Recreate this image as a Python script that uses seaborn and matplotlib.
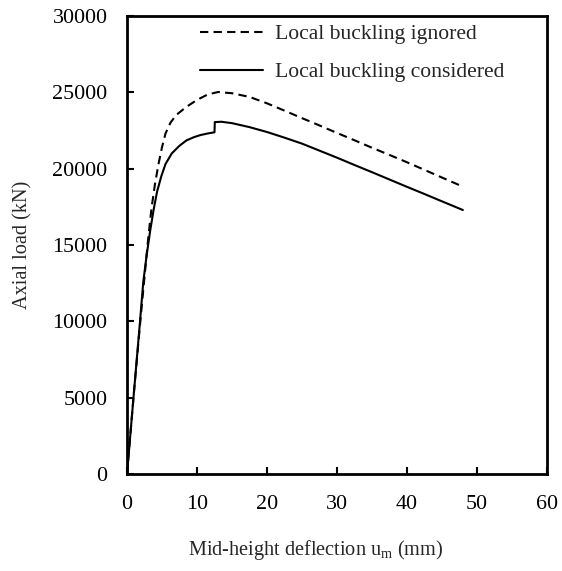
import matplotlib
matplotlib.use("Agg")
import matplotlib.pyplot as plt
import seaborn as sns
import pandas as pd

# Load–deflection response of the column, with and without local buckling
defl_ignored = [0, 1.0, 2.0, 3.0, 3.5, 4.0, 4.5, 5.0, 5.5, 6.2, 7.0, 8.5, 10.0,
                11.5, 13.0, 15.0, 17.5, 20.0, 22.5, 25.0, 27.5, 30.0, 32.5,
                35.0, 37.5, 40.0, 42.5, 45.0, 48.0]
load_ignored = [0, 5400, 10500, 15300, 17400, 19000, 20300, 21400, 22300,
                23000, 23500, 24050, 24500, 24850, 25020, 24940, 24700,
                24280, 23800, 23310, 22830, 22340, 21860, 21370, 20900,
                20420, 19920, 19420, 18820]

defl_considered = [0, 1.0, 1.86, 2.33, 2.8, 3.3, 3.8, 4.3, 4.9, 5.5, 6.4, 7.5,
                   8.5, 9.5, 10.5, 11.5, 12.5, 12.55, 13.5, 15.0, 17.5, 20.0,
                   22.5, 25.0, 27.5, 30.0, 32.5, 35.0, 37.5, 40.0, 42.5, 45.0,
                   48.0]
load_considered = [0, 5400, 10000, 12600, 14300, 15900, 17300, 18500, 19500,
                   20300, 21000, 21500, 21850, 22050, 22200, 22300, 22380,
                   23050, 23070, 22980, 22720, 22400, 22030, 21640, 21180,
                   20720, 20240, 19770, 19290, 18810, 18340, 17860, 17290]

label_ignored = "Local buckling ignored"
label_considered = "Local buckling considered"
x_ticks = [0, 10, 20, 30, 40, 50, 60]
y_ticks = [0, 5000, 10000, 15000, 20000, 25000, 30000]

sns.set_style("white")
plt.rcParams["font.family"] = ["Liberation Serif", "DejaVu Serif"]
plt.rcParams["mathtext.fontset"] = "custom"
plt.rcParams["mathtext.rm"] = "Liberation Serif"
plt.rcParams["mathtext.it"] = "Liberation Serif:italic"

fig = plt.figure(figsize=(5.62, 5.71), dpi=100)
ax = fig.add_axes([0.226, 0.170, 0.747, 0.802])

df_ign = pd.DataFrame({"u": defl_ignored, "P": load_ignored})
df_con = pd.DataFrame({"u": defl_considered, "P": load_considered})

sns.lineplot(data=df_ign, x="u", y="P", ax=ax, color="black", lw=1.5,
             sort=False, estimator=None, label=label_ignored,
             linestyle=(0, (4, 2.5)))
sns.lineplot(data=df_con, x="u", y="P", ax=ax, color="black", lw=1.5,
             sort=False, estimator=None, label=label_considered)

ax.set_xlim(0, 60)
ax.set_ylim(0, 30000)
ax.set_xticks(x_ticks)
ax.set_yticks(y_ticks)
ax.set_xticklabels([str(t) for t in x_ticks])
ax.set_yticklabels([str(t) for t in y_ticks])

for side in ["left", "bottom", "right", "top"]:
    ax.spines[side].set_visible(True)
    ax.spines[side].set_linewidth(2.0)
    ax.spines[side].set_color("black")

ax.tick_params(axis="both", direction="in", length=5, width=1.5,
               labelsize=15.8, colors="black", pad=14,
               top=False, right=False, left=True, bottom=True)
ax.tick_params(axis="x", pad=15)

ax.set_xlabel("Mid-height deflection u$_{\\mathrm{m}}$ (mm)", fontsize=14.6)
ax.set_ylabel("Axial load (kN)", fontsize=14.6)
ax.xaxis.set_label_coords(0.45, -0.14)
ax.yaxis.set_label_coords(-0.225, 0.5)

leg = ax.legend(loc="upper left", bbox_to_anchor=(0.145, 1.008), frameon=False,
                fontsize=15.6, handlelength=2.9, handletextpad=0.55,
                labelspacing=0.82, borderaxespad=0.15)

fig.savefig("out.png", dpi=100)
